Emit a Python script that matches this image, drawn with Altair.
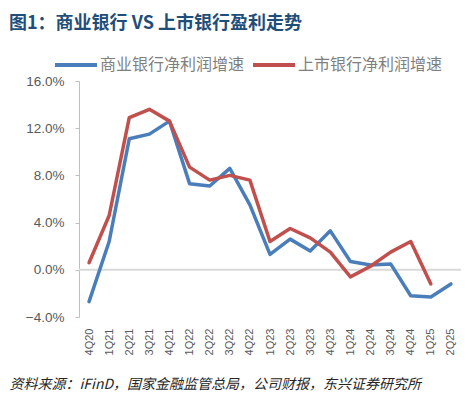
import altair as alt
import pandas as pd

quarters = ["4Q20", "1Q21", "2Q21", "3Q21", "4Q21", "1Q22", "2Q22", "3Q22", "4Q22",
            "1Q23", "2Q23", "3Q23", "4Q23", "1Q24", "2Q24", "3Q24", "4Q24", "1Q25", "2Q25"]
commercial = [-2.7, 2.4, 11.1, 11.5, 12.6, 7.3, 7.1, 8.6, 5.5,
              1.3, 2.6, 1.6, 3.3, 0.7, 0.4, 0.5, -2.2, -2.3, -1.2]
listed = [0.6, 4.6, 12.9, 13.6, 12.6, 8.7, 7.6, 8.0, 7.6,
          2.4, 3.5, 2.7, 1.5, -0.6, 0.3, 1.5, 2.4, -1.2]

s1 = "商业银行净利润增速"
s2 = "上市银行净利润增速"

rows = []
for q, v in zip(quarters, commercial):
    rows.append({"q": q, "v": v, "s": s1})
for q, v in zip(quarters, listed):
    rows.append({"q": q, "v": v, "s": s2})
df = pd.DataFrame(rows)

cjk = "Noto Sans CJK SC"
latin = "Liberation Sans"

x_enc = alt.X(
    "q:N",
    sort=quarters,
    scale=alt.Scale(type="point", padding=0.5),
    axis=alt.Axis(
        title="资料来源：iFinD，国家金融监管总局，公司财报，东兴证券研究所",
        titleX=-70, titleY=67, titleAlign="left", titleBaseline="middle",
        titleAngle=0, titleFont=cjk, titleFontSize=14, titleFontStyle="italic",
        titleFontWeight="normal", titleColor="#262626",
        labelAngle=270, labelFont=latin, labelFontSize=11, labelColor="#595959",
        labelPadding=11, ticks=False, tickSize=0, domain=False, grid=False,
    ),
)

y_scale = alt.Scale(domain=[-4, 16], nice=False, zero=False)

lines = alt.Chart(df).mark_line(strokeWidth=3.5, strokeCap="round", strokeJoin="round").encode(
    x=x_enc,
    y=alt.Y(
        "v:Q",
        scale=y_scale,
        axis=alt.Axis(
            title=None, values=[-4, 0, 4, 8, 12, 16],
            labelExpr="format(datum.value, '.1f') + '%'",
            labelFont=latin, labelFontSize=13.5, labelColor="#595959",
            labelPadding=11, tickSize=4, tickColor="#BFBFBF",
            domainColor="#BFBFBF", domainWidth=1, grid=False,
        ),
    ),
    color=alt.Color(
        "s:N",
        sort=[s1, s2],
        scale=alt.Scale(domain=[s1, s2], range=["#4A7EBB", "#C0504D"]),
        legend=alt.Legend(
            title=None, orient="none", direction="horizontal",
            legendX=-26, legendY=-39,
            symbolType="stroke", symbolSize=1764, symbolStrokeWidth=4,
            labelFont=cjk, labelFontSize=16, labelColor="#7F7F7F",
            labelOffset=1, columnPadding=0, padding=0,
        ),
    ),
)

zero = alt.Chart(pd.DataFrame({"z": [0]})).mark_rule(color="#D9D9D9", strokeWidth=2).encode(
    y=alt.Y("z:Q", scale=y_scale)
)

chart = (
    alt.layer(zero, lines)
    .properties(
        width=382,
        height=236,
        autosize=alt.AutoSizeParams(type="none"),
        padding={"left": 71, "top": 73, "right": 7, "bottom": 75},
        title=alt.Title(
            "图1：商业银行 VS 上市银行盈利走势",
            anchor="start", frame="group", dx=-70, offset=9,
            font=cjk, fontSize=18, fontWeight="bold", color="#1F4E79",
        ),
    )
    .configure_view(stroke=None)
)

chart.save("out.html", embed_options={"renderer": "svg", "actions": False})
